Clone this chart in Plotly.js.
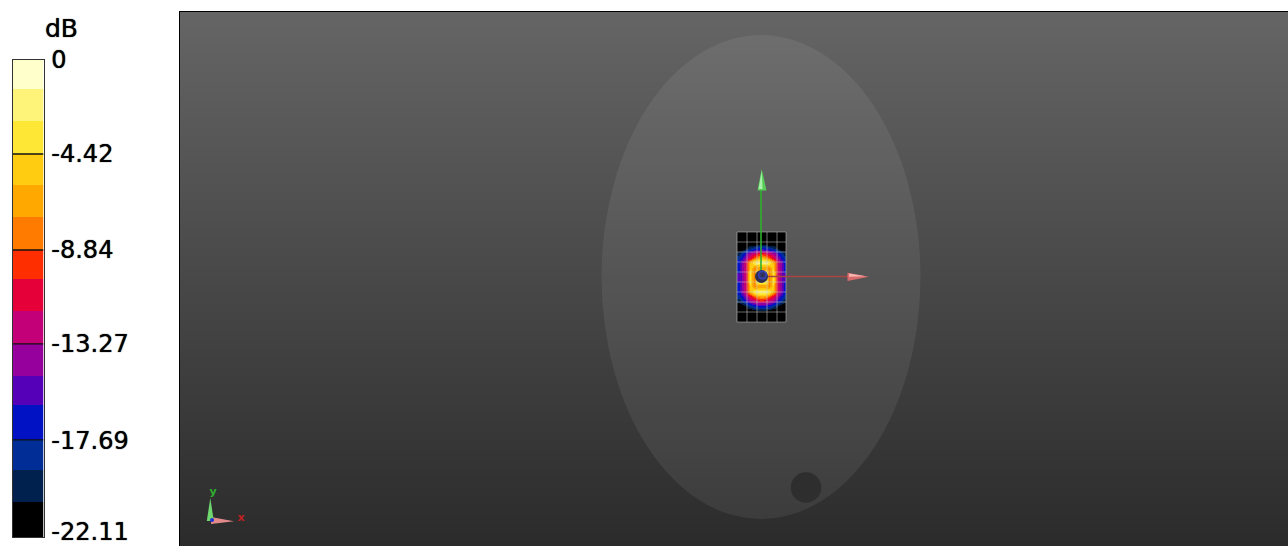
<!DOCTYPE html>
<html>
<head>
<meta charset="utf-8">
<script src="https://cdn.plot.ly/plotly-3.0.1.min.js"></script>
<style>html,body{margin:0;padding:0;background:#fff}#chart{width:1288px;height:546px}</style>
</head>
<body>
<div id="chart"></div>
<script>
// Colour scale
const dbMin = -22.11, dbMax = 0;
const tickVals = [0, -4.33, -8.8, -13.13, -17.65, -21.85];
const tickText = ['0', '-4.42', '-8.84', '-13.27', '-17.69', '-22.11'];
const bandColors = ['#000000','#00204e','#002e96','#0012c4','#5500b8','#96009c','#c40078','#e6003a','#ff2e00','#ff7b00','#ffa800','#ffcc11','#ffe835','#fff47a','#ffffcc'];
const bandValues = [-21.37,-19.9,-18.43,-16.95,-15.48,-14.0,-12.53,-11.06,-9.58,-8.11,-6.63,-5.16,-3.69,-2.21,-0.74];
const bandEdges = [-22.11,-20.49,-19.0,-17.61,-15.99,-14.65,-13.16,-11.63,-10.15,-8.81,-7.28,-5.79,-4.36,-2.83,-1.34,0];
const majorEdges = [-17.61,-13.16,-8.81,-4.36];

// Phantom backdrop shades (top, bottom)
const backdropShades = [101, 43];
const backdropRowsY = [12, 546];
const backdropColsX = [180, 1288];

// Measured field, dB, one row per scan line from top to bottom
const fieldDb = [
 [-22,-22,-22,-22,-22,-22,-22,-22,-22,-22,-22,-22,-22],
 [-22,-22,-22,-22,-22,-22,-22,-22,-22,-22,-22,-22,-22],
 [-22,-22,-22,-22,-22,-21.3,-20.7,-21.3,-22,-22,-22,-22,-22],
 [-22,-21.8,-20.3,-18.9,-17.8,-17,-16.6,-17,-17.8,-18.9,-20.3,-21.8,-22],
 [-19.8,-17.4,-15.1,-13.3,-11.9,-10.5,-10,-10.5,-11.9,-13.3,-15.1,-17.4,-19.8],
 [-18.2,-15.8,-13.3,-11,-8.5,-6.4,-5.2,-6.4,-8.5,-11,-13.3,-15.8,-18.2],
 [-17,-13.7,-10.6,-6,-2.8,-1.8,-1.6,-1.8,-2.8,-6,-10.6,-13.7,-17],
 [-16.4,-13.5,-10.5,-4.6,-7.5,-7.5,-7.5,-7.5,-7.5,-4.6,-10.5,-13.5,-16.4],
 [-16.2,-13.5,-10.5,-4.2,-7.8,-2.5,-2.5,-2.5,-7.8,-4.2,-10.5,-13.5,-16.2],
 [-16.2,-13.5,-10.5,-4,-7.8,-2.5,-2.5,-2.5,-7.8,-4,-10.5,-13.5,-16.2],
 [-16.2,-13.5,-10.5,-4.2,-7.8,-2.5,-2.5,-2.5,-7.8,-4.2,-10.5,-13.5,-16.2],
 [-16.4,-13.5,-10.5,-4.6,-7.5,-7.5,-7.5,-7.5,-7.5,-4.6,-10.5,-13.5,-16.4],
 [-17,-13.7,-10.6,-6,-2.8,-2,-1.8,-2,-2.8,-6,-10.6,-13.7,-17],
 [-18.2,-15.8,-13.3,-11,-8.5,-6.6,-5.8,-6.6,-8.5,-11,-13.3,-15.8,-18.2],
 [-20,-17.6,-15.3,-13.5,-12.2,-11,-10.4,-11,-12.2,-13.5,-15.3,-17.6,-20],
 [-22,-21.4,-19.8,-18.3,-17,-16.3,-16,-16.3,-17,-18.3,-19.8,-21.4,-22],
 [-22,-22,-22,-22,-21.3,-21,-20.7,-21,-21.3,-22,-22,-22,-22],
 [-22,-22,-22,-22,-22,-22,-22,-22,-22,-22,-22,-22,-22],
 [-22,-22,-22,-22,-22,-22,-22,-22,-22,-22,-22,-22,-22]
];
// Sensor grid lines
const gridColsX = [737,747,757,767,777,786];
const gridRowsY = [232,242,252,262,272,282,292,302,312,322];

// Large axes
const yShaftX = [761,761], yShaftY = [276,190];
const xShaftX = [761,850], xShaftY = [276.5,276.5];
const yHeadX = [761.7,757.5,766.5,761.7], yHeadY = [169,190.5,190.5,169];
const yHeadHiX = [761.7,758.6,762.6,761.7], yHeadHiY = [171,189,189,171];
const xHeadX = [869,847.5,847.5,869], xHeadY = [276.7,272.7,280.9,276.7];
const xHeadHiX = [866,849,849,866], xHeadHiY = [276.2,273.6,276.8,276.2];
const ballX = [761.5], ballY = [276.5];
const ballHiX = [762.5], ballHiY = [275];

// Orientation triad
const triadYHeadX = [210.3,206.8,213.8,210.3], triadYHeadY = [498,521,521,498];
const triadXHeadX = [234,211,211,234], triadXHeadY = [521.3,517,524,521.3];
const triadHubX = [212], triadHubY = [520];
const triadYLabel = {x:[213], y:[492], t:['y']};
const triadXLabel = {x:[241], y:[518], t:['x']};

// Phantom outline and hole
const ellipseBox = {x0:601.5, x1:920.5, y0:35, y1:519};
const holeBox = {x0:790.8, x1:821.2, y0:472.2, y1:502.8};

// Helpers
const scale = [];
bandColors.forEach((c,i)=>{ scale.push([i/bandColors.length,c]); scale.push([(i+1)/bandColors.length,c]); });
const joinSegments = (pairs) => pairs.flatMap(p => [...p, null]);
const gridLinesX = joinSegments([
  ...gridColsX.map(x=>[x,x]),
  ...gridRowsY.map(()=>[gridColsX[0],gridColsX[gridColsX.length-1]])
]);
const gridLinesY = joinSegments([
  ...gridColsX.map(()=>[gridRowsY[0],gridRowsY[gridRowsY.length-1]]),
  ...gridRowsY.map(y=>[y,y])
]);
const tickLineX = joinSegments(majorEdges.map(()=>[0,1]));
const tickLineY = joinSegments(majorEdges.map(v=>[v,v]));

const poly = (x,y,color,axes) => ({type:'scatter',mode:'lines',x,y,fill:'toself',fillcolor:color,
  line:{width:0,color},hoverinfo:'skip',showlegend:false,xaxis:axes[0],yaxis:axes[1]});
const line = (x,y,color,width,axes) => ({type:'scatter',mode:'lines',x,y,line:{color,width},
  connectgaps:false,hoverinfo:'skip',showlegend:false,xaxis:axes[0],yaxis:axes[1]});
const dot = (x,y,color,size,axes,grad) => ({type:'scatter',mode:'markers',x,y,
  marker:Object.assign({color,size,line:{width:0}},grad?{gradient:{type:'radial',color:grad}}:{}),
  hoverinfo:'skip',showlegend:false,xaxis:axes[0],yaxis:axes[1]});
const label = (l,color) => ({type:'scatter',mode:'text',x:l.x,y:l.y,text:l.t,
  textfont:{family:'DejaVu Sans',size:11,color,weight:'bold'},textposition:'middle center',
  hoverinfo:'skip',showlegend:false,xaxis:'x3',yaxis:'y3'});

const main = ['x3','y3'];
const traces = [
  {type:'heatmap',x:backdropColsX,y:backdropRowsY,
   z:[[backdropShades[0],backdropShades[0]],[backdropShades[1],backdropShades[1]]],
   zmin:0,zmax:255,zsmooth:'best',colorscale:[[0,'#000'],[1,'#fff']],showscale:false,hoverinfo:'skip',xaxis:'x',yaxis:'y'},
  {type:'heatmap',z:bandValues.map(v=>[v]),x:[0,1],y:bandEdges,
   zmin:dbMin,zmax:dbMax,colorscale:scale,showscale:false,hoverinfo:'skip',xaxis:'x2',yaxis:'y2'},
  line(tickLineX,tickLineY,'#111',1.4,['x2','y2']),
  {type:'heatmap',z:fieldDb,x0:738.9,dx:3.75,y0:234.4,dy:4.75,zmin:dbMin,zmax:dbMax,zsmooth:'best',
   colorscale:scale,showscale:false,hoverinfo:'skip',xaxis:'x3',yaxis:'y3'},
  line(gridLinesX,gridLinesY,'rgba(205,205,205,0.5)',1.1,main),
  line(xShaftX,xShaftY,'#a84444',1.4,main),
  line(yShaftX,yShaftY,'#2fb02f',1.6,main),
  poly(yHeadX,yHeadY,'#58cc58',main),
  poly(yHeadHiX,yHeadHiY,'#a9f0a9',main),
  poly(xHeadX,xHeadY,'#d96a6a',main),
  poly(xHeadHiX,xHeadHiY,'#f7b4b0',main),
  dot(ballX,ballY,'#2f3050',13,main),
  dot(ballHiX,ballHiY,'#3b46e0',9,main,'rgba(47,48,80,0)'),
  poly(triadXHeadX,triadXHeadY,'#e28a8a',main),
  poly(triadYHeadX,triadYHeadY,'#6fd86f',main),
  dot(triadHubX,triadHubY,'#2030d0',4,main),
  label(triadYLabel,'#2fb02f'),
  label(triadXLabel,'#c02020')
];

const hidden = {showgrid:false,zeroline:false,showticklabels:false,ticks:''};
const heavy = '0 0 1px #000';
const layout = {
  width:1288,height:546,margin:{l:0,r:0,t:0,b:0,pad:0},
  paper_bgcolor:'#fff',plot_bgcolor:'rgba(0,0,0,0)',showlegend:false,
  xaxis:Object.assign({},hidden,{domain:[180/1288,1],range:[180,1288],side:'top',showline:true,linecolor:'#000',linewidth:1,anchor:'y'}),
  yaxis:Object.assign({},hidden,{domain:[0,534/546],range:[546,12],showline:true,linecolor:'#000',linewidth:1,anchor:'x'}),
  xaxis3:Object.assign({},hidden,{domain:[180/1288,1],range:[180,1288],anchor:'y3'}),
  yaxis3:Object.assign({},hidden,{domain:[0,534/546],range:[546,12],anchor:'x3'}),
  xaxis2:Object.assign({},hidden,{domain:[12.5/1288,43.5/1288],range:[0,1],anchor:'y2',showline:true,mirror:true,linecolor:'#333',linewidth:1}),
  yaxis2:{domain:[9/546,486/546],range:[dbMin,dbMax],anchor:'x2',side:'right',showgrid:false,zeroline:false,
    tickmode:'array',tickvals:tickVals,ticktext:tickText,ticks:'outside',ticklen:2,tickcolor:'rgba(0,0,0,0)',
    ticklabeloverflow:'allow',
    showline:true,mirror:true,linecolor:'#333',linewidth:1,
    tickfont:{family:'DejaVu Sans',size:24,color:'#000',shadow:heavy}},
  shapes:[
    {type:'circle',xref:'x3',yref:'y3',layer:'below',x0:ellipseBox.x0,x1:ellipseBox.x1,y0:ellipseBox.y0,y1:ellipseBox.y1,
     fillcolor:'rgba(255,255,255,0.07)',line:{width:0}},
    {type:'circle',xref:'x3',yref:'y3',layer:'below',x0:holeBox.x0,x1:holeBox.x1,y0:holeBox.y0,y1:holeBox.y1,
     fillcolor:'#2e2e2e',line:{width:0}}
  ],
  annotations:[{text:'dB',xref:'paper',yref:'paper',x:61/1288,y:(546-28)/546,xanchor:'center',yanchor:'middle',
    showarrow:false,font:{family:'DejaVu Sans',size:25,color:'#000',shadow:heavy}}]
};
Plotly.newPlot('chart',traces,layout,{displayModeBar:false,staticPlot:true});
</script>
</body>
</html>
